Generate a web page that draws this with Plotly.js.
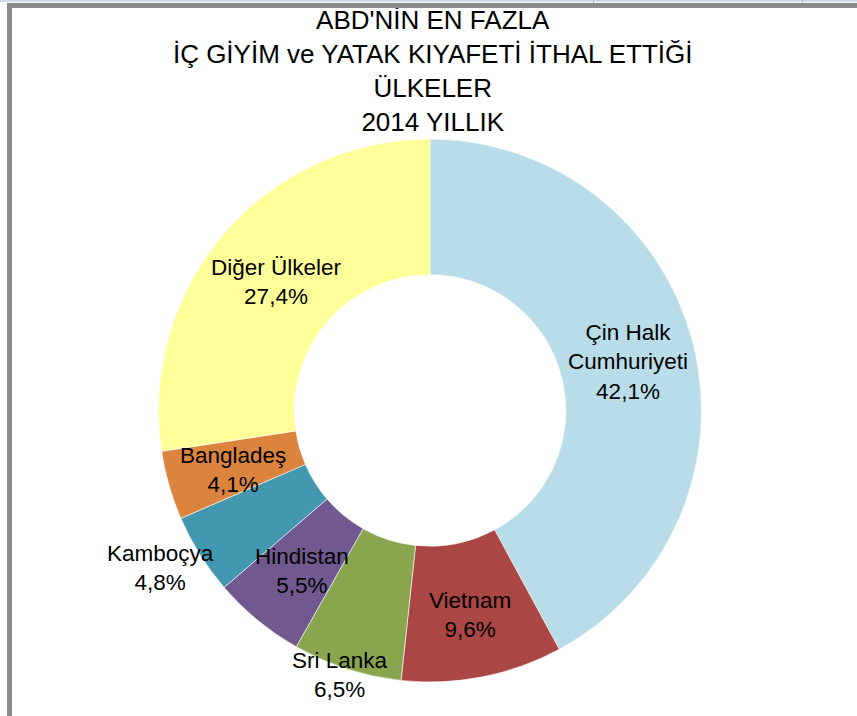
<!DOCTYPE html>
<html>
<head>
<meta charset="utf-8">
<script src="https://cdn.plot.ly/plotly-3.0.1.min.js"></script>
<style>
  html, body { margin: 0; padding: 0; background: #ffffff; }
  #chart { width: 857px; height: 716px; position: absolute; left: 0; top: 0; }
  .frame { position: absolute; }
</style>
</head>
<body>
<div id="chart"></div>
<div class="frame" style="left:0;top:0;width:857px;height:2px;background:#d4dbe8;"></div>
<div class="frame" style="left:7px;top:3px;width:850px;height:5px;background:#8c8c8c;"></div>
<div class="frame" style="left:7px;top:3px;width:5px;height:713px;background:#8c8c8c;"></div>
<div class="frame" style="left:593px;top:0;width:1px;height:3px;background:#b0b8c8;"></div>
<div class="frame" style="left:802px;top:0;width:1px;height:3px;background:#b0b8c8;"></div>
<script>
// Data
const countries = ["Çin Halk<br>Cumhuriyeti", "Vietnam", "Sri Lanka", "Hindistan", "Kamboçya", "Bangladeş", "Diğer Ülkeler"];
const shares = [42.1, 9.6, 6.5, 5.5, 4.8, 4.1, 27.4];
const sliceColors = ["#B9DDE8", "#AA4643", "#89A54E", "#71588F", "#4198AF", "#DB843D", "#FFFF99"];
const titleLines = ["ABD'NİN EN FAZLA", "İÇ GİYİM ve YATAK KIYAFETİ İTHAL ETTİĞİ", "ÜLKELER", "2014 YILLIK"];

// Label placement (pixel centres of each label block)
const labelPos = [[628, 362], [470, 615], [340, 675], [302, 571], [160, 568], [233, 470], [276, 282]];

const W = 857, H = 716;
const margin = {l: 158, r: 155, t: 139, b: 34};
const plotW = W - margin.l - margin.r, plotH = H - margin.t - margin.b;

function fmt(v) { return v.toFixed(1).replace('.', ',') + '%'; }

const annotations = countries.map((c, i) => ({
  text: c + '<br>' + fmt(shares[i]),
  xref: 'paper', yref: 'paper',
  x: (labelPos[i][0] - margin.l) / plotW,
  y: 1 - (labelPos[i][1] - margin.t) / plotH,
  xanchor: 'center', yanchor: 'middle',
  showarrow: false,
  font: {family: 'Liberation Sans, Arial, sans-serif', size: 22.5, color: '#000000'}
}));

const data = [{
  type: 'pie',
  labels: countries,
  values: shares,
  sort: false,
  direction: 'clockwise',
  rotation: 0,
  hole: 0.5,
  textinfo: 'none',
  hoverinfo: 'label+percent',
  marker: {colors: sliceColors, line: {color: '#ffffff', width: 0.6}},
  showlegend: false
}];

const layout = {
  width: W, height: H,
  margin: margin,
  paper_bgcolor: 'rgba(0,0,0,0)',
  plot_bgcolor: 'rgba(0,0,0,0)',
  title: {
    text: titleLines.join('<br>'),
    xref: 'paper', x: 0.505,
    yref: 'container', y: 0.959, yanchor: 'top',
    font: {family: 'Liberation Sans, Arial, sans-serif', size: 26, color: '#000000'}
  },
  annotations: annotations,
  showlegend: false
};

Plotly.newPlot('chart', data, layout, {displayModeBar: false, staticPlot: true});
</script>
</body>
</html>
